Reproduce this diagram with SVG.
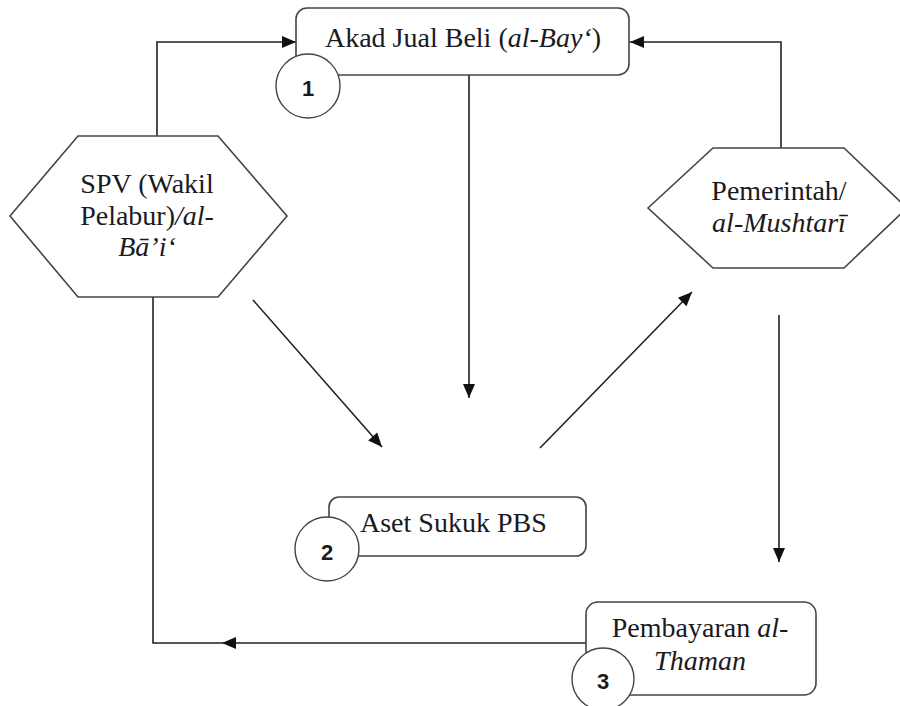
<svg xmlns="http://www.w3.org/2000/svg" width="900" height="706" viewBox="0 0 900 706">
<defs>
<marker id="arr" markerUnits="userSpaceOnUse" markerWidth="16" markerHeight="14" viewBox="0 0 16 14" refX="15" refY="7" orient="auto">
<path d="M1,1 L15,7 L1,13 Z" fill="#111"/>
</marker>
<style>
.box{fill:#fff;stroke:#444;stroke-width:1.6}
.num{fill:#fff;stroke:#444;stroke-width:1.4}
.t{font-family:'Liberation Serif','DejaVu Serif',serif;font-size:28px;fill:#1a1a22}
.c{text-anchor:middle}
.i{font-style:italic}
.d{font-family:'Liberation Sans','DejaVu Sans',sans-serif;font-size:22px;font-weight:bold;fill:#1a1a22;text-anchor:middle}
.ln{fill:none;stroke:#222;stroke-width:1.6}
</style>
</defs>
<rect width="900" height="706" fill="#fff"/>
<g id="connectors">
<polyline class="ln" points="157,136 157,42 296,42" marker-end="url(#arr)"/>
<polyline class="ln" points="781,148 781,42 630,42" marker-end="url(#arr)"/>
<line class="ln" x1="469" y1="75" x2="469" y2="398" marker-end="url(#arr)"/>
<line class="ln" x1="253" y1="300" x2="382" y2="447" marker-end="url(#arr)"/>
<line class="ln" x1="540" y1="448" x2="692" y2="292" marker-end="url(#arr)"/>
<line class="ln" x1="779" y1="315" x2="779" y2="562" marker-end="url(#arr)"/>
<line class="ln" x1="586" y1="643" x2="222" y2="643" marker-end="url(#arr)"/>
<polyline class="ln" points="222,643 153,643 153,268" marker-end="url(#arr)"/>
</g>
<g id="akad">
<rect class="box" x="296" y="8" width="333" height="67" rx="11"/>
<text class="t c" font-family="Liberation Serif, serif" x="463" y="47">Akad Jual Beli (<tspan class="i">al-Bay‘</tspan>)</text>
<circle class="num" cx="308" cy="86" r="32"/>
<text class="d" x="308" y="96">1</text>
</g>
<g id="spv">
<polygon class="box" points="10,216 78,136 218,136 287,216 218,297 78,297"/>
<text class="t c" x="147" y="193">SPV (Wakil</text>
<text class="t c" x="147" y="225">Pelabur)<tspan class="i">/al-</tspan></text>
<text class="t c i" x="147" y="256">Bā’i‘</text>
</g>
<g id="pemerintah">
<polygon class="box" points="648,208 713,148 844,148 907,208 844,268 713,268"/>
<text class="t c" x="779" y="200">Pemerintah/</text>
<text class="t c i" x="779" y="232">al-Mushtarī</text>
</g>
<g id="aset">
<rect class="box" x="329" y="497" width="257" height="59" rx="10"/>
<text class="t" x="360" y="532">Aset Sukuk PBS</text>
<circle class="num" cx="327" cy="549" r="32"/>
<text class="d" x="327" y="560">2</text>
</g>
<g id="pembayaran">
<rect class="box" x="586" y="602" width="230" height="93" rx="12"/>
<text class="t c" x="700" y="637">Pembayaran <tspan class="i">al-</tspan></text>
<text class="t c i" x="700" y="670">Thaman</text>
<circle class="num" cx="603" cy="679" r="31"/>
<text class="d" x="603" y="689">3</text>
</g>
</svg>
